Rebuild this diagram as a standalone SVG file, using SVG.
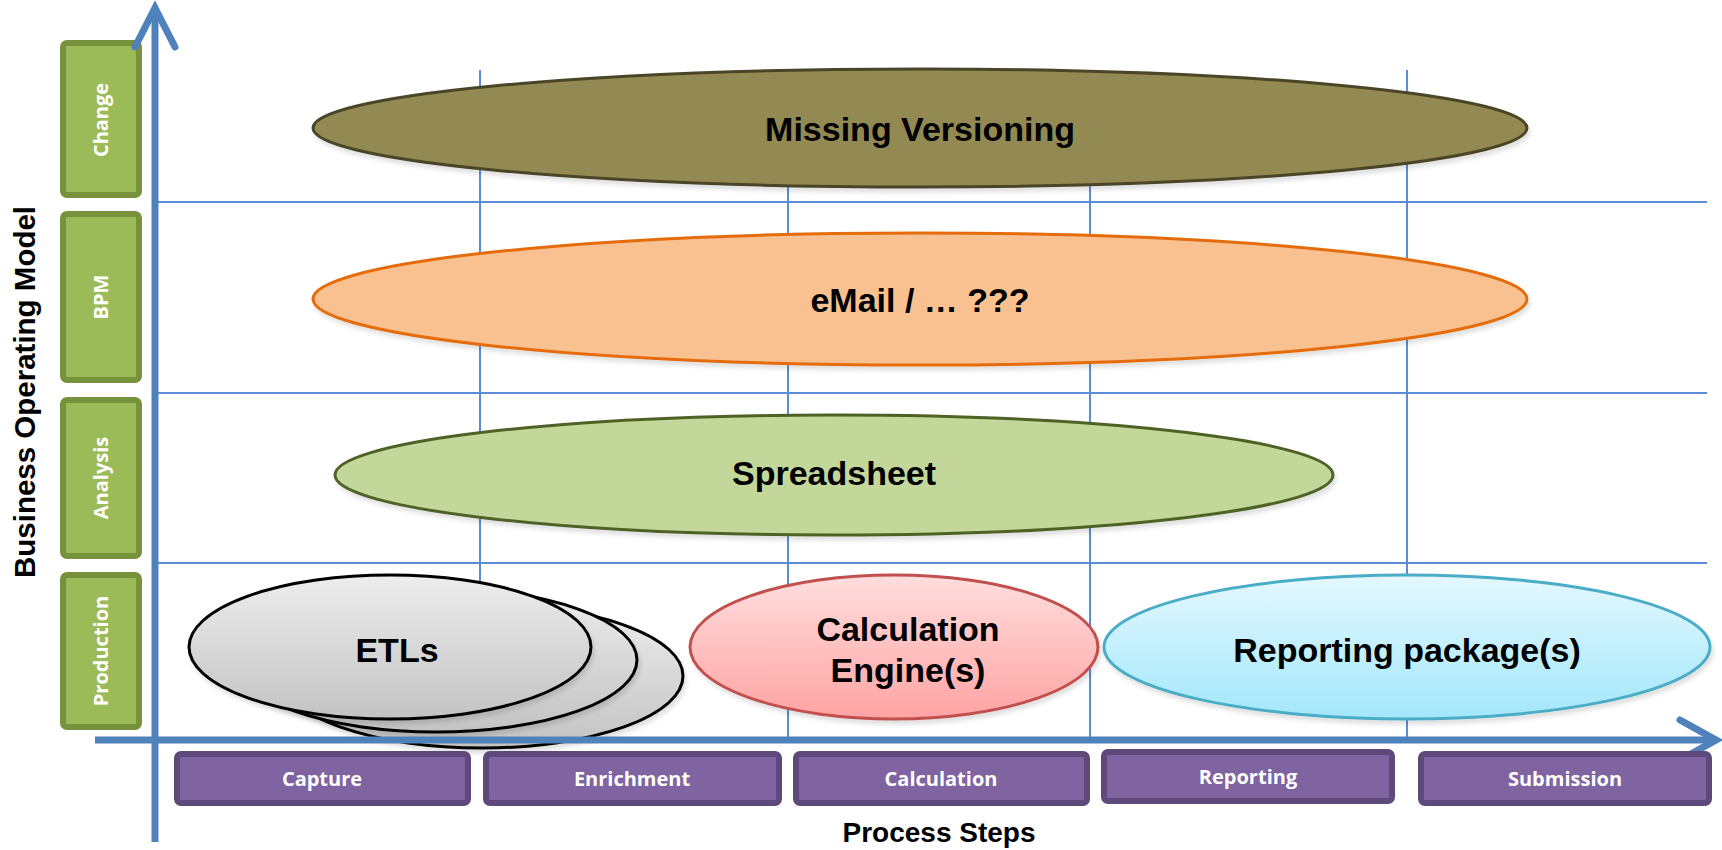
<svg xmlns="http://www.w3.org/2000/svg" width="1722" height="850" viewBox="0 0 1722 850">
<defs>
  <linearGradient id="gEtl" x1="0" y1="0" x2="0" y2="1"><stop offset="0" stop-color="#EDEDED"/><stop offset="1" stop-color="#C3C3C3"/></linearGradient>
  <linearGradient id="gCalc" x1="0" y1="0" x2="0" y2="1"><stop offset="0" stop-color="#FFDEDE"/><stop offset="1" stop-color="#FFA3A3"/></linearGradient>
  <linearGradient id="gRep" x1="0" y1="0" x2="0" y2="1"><stop offset="0" stop-color="#E4F8FE"/><stop offset="1" stop-color="#A3E7FB"/></linearGradient>
  <filter id="sh" x="-5%" y="-10%" width="110%" height="130%">
    <feDropShadow dx="2" dy="4" stdDeviation="2" flood-color="#000" flood-opacity="0.12"/>
  </filter>
</defs>
<style>
  .grid { stroke: #5A8DD6; stroke-width: 2; fill: none; }
  .axis { stroke: #4F81BD; stroke-width: 7; fill: none; stroke-linecap: round; stroke-linejoin: miter; }
  .big { font-family: "Liberation Sans", Arial, sans-serif; font-weight: bold; font-size: 34px; fill: #000; text-anchor: middle; }
  .title { font-family: "Liberation Sans", Arial, sans-serif; font-weight: bold; font-size: 28px; fill: #000; text-anchor: middle; }
  .gbox { fill: #9BBB59; stroke: #76923C; stroke-width: 6; }
  .pbox { fill: #8064A2; stroke: #5F497A; stroke-width: 6; }
  .lbl { font-family: "Open Sans", "Noto Sans", sans-serif; font-weight: 700; font-size: 20px; fill: #FFFFFF; text-anchor: middle; }
</style>
<rect width="1722" height="850" fill="#FFFFFF"/>

<g id="grid">
  <line class="grid" x1="155" y1="202" x2="1707" y2="202"/>
  <line class="grid" x1="155" y1="393" x2="1707" y2="393"/>
  <line class="grid" x1="155" y1="563" x2="1707" y2="563"/>
  <line class="grid" x1="480" y1="70" x2="480" y2="740"/>
  <line class="grid" x1="788" y1="70" x2="788" y2="740"/>
  <line class="grid" x1="1090" y1="70" x2="1090" y2="740"/>
  <line class="grid" x1="1407" y1="70" x2="1407" y2="740"/>
</g>

<g id="missing-versioning">
  <ellipse cx="920" cy="128" rx="607" ry="59" fill="#938953" stroke="#4A4526" stroke-width="3" filter="url(#sh)"/>
  <text class="big" x="920" y="141">Missing Versioning</text>
</g>
<g id="email">
  <ellipse cx="920" cy="299" rx="607" ry="66" fill="#F9C090" stroke="#E46C0A" stroke-width="3" filter="url(#sh)"/>
  <text class="big" x="920" y="312">eMail / … ???</text>
</g>
<g id="spreadsheet">
  <ellipse cx="834" cy="475" rx="499" ry="60" fill="#C4D79B" stroke="#4F6228" stroke-width="3" filter="url(#sh)"/>
  <text class="big" x="834" y="485">Spreadsheet</text>
</g>
<g id="etls">
  <ellipse cx="482" cy="676" rx="201" ry="72" fill="url(#gEtl)" stroke="#000" stroke-width="3" filter="url(#sh)"/>
  <ellipse cx="436" cy="660" rx="201" ry="72" fill="url(#gEtl)" stroke="#000" stroke-width="3" filter="url(#sh)"/>
  <ellipse cx="390" cy="647" rx="201" ry="72" fill="url(#gEtl)" stroke="#000" stroke-width="3" filter="url(#sh)"/>
  <text class="big" x="397" y="662">ETLs</text>
</g>
<g id="calc-engine">
  <ellipse cx="894" cy="647" rx="204" ry="72" fill="url(#gCalc)" stroke="#C0504D" stroke-width="3" filter="url(#sh)"/>
  <text class="big" x="908" y="641">Calculation</text>
  <text class="big" x="908" y="682">Engine(s)</text>
</g>
<g id="reporting-package">
  <ellipse cx="1407" cy="647" rx="303" ry="72" fill="url(#gRep)" stroke="#4BACC6" stroke-width="3" filter="url(#sh)"/>
  <text class="big" x="1407" y="662">Reporting package(s)</text>
</g>

<g id="row-change">
  <rect class="gbox" x="63" y="43" width="76" height="152" rx="4"/>
  <text class="lbl" transform="translate(108,120) rotate(-90)">Change</text>
</g>
<g id="row-bpm">
  <rect class="gbox" x="63" y="214" width="76" height="166" rx="4"/>
  <text class="lbl" transform="translate(108,297) rotate(-90)">BPM</text>
</g>
<g id="row-analysis">
  <rect class="gbox" x="63" y="400" width="76" height="156" rx="4"/>
  <text class="lbl" transform="translate(108,478) rotate(-90)">Analysis</text>
</g>
<g id="row-production">
  <rect class="gbox" x="63" y="575" width="76" height="152" rx="4"/>
  <text class="lbl" transform="translate(108,651) rotate(-90)">Production</text>
</g>

<g id="connectors">
  <line class="axis" x1="155" y1="10" x2="155" y2="842" style="stroke-linecap:butt"/>
  <polyline class="axis" points="135,47 155,8 175,47"/>
  <line class="axis" x1="95" y1="740" x2="1712" y2="740" style="stroke-linecap:butt"/>
  <polyline class="axis" points="1680,720 1716,740 1680,760"/>
</g>

<g id="step-capture">
  <rect class="pbox" x="177" y="754" width="291" height="49" rx="4"/>
  <text class="lbl" x="322" y="786">Capture</text>
</g>
<g id="step-enrichment">
  <rect class="pbox" x="486" y="754" width="293" height="49" rx="4"/>
  <text class="lbl" x="632" y="786">Enrichment</text>
</g>
<g id="step-calculation">
  <rect class="pbox" x="796" y="754" width="291" height="49" rx="4"/>
  <text class="lbl" x="941" y="786">Calculation</text>
</g>
<g id="step-reporting">
  <rect class="pbox" x="1104" y="752" width="288" height="49" rx="4"/>
  <text class="lbl" x="1248" y="784">Reporting</text>
</g>
<g id="step-submission">
  <rect class="pbox" x="1421" y="754" width="288" height="49" rx="4"/>
  <text class="lbl" x="1565" y="786">Submission</text>
</g>

<g id="axis-titles">
  <text class="title" x="939" y="842">Process Steps</text>
  <text class="title" style="font-size:29.5px" transform="translate(35,392) rotate(-90)">Business Operating Model</text>
</g>
</svg>
